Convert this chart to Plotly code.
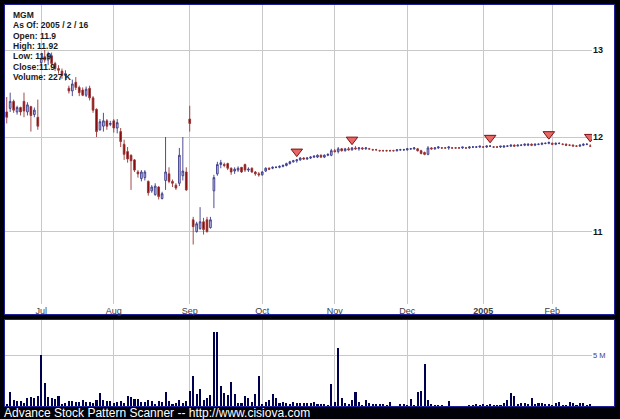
import plotly.graph_objects as go
import pandas as pd
import math

W, H = 620, 419

# ---- categories: trading days 2004-06-17 .. 2005-02-16 ----
holidays = ["2004-07-05", "2004-09-06", "2004-11-25", "2004-12-24", "2005-01-17"]
dates = [d.strftime("%Y-%m-%d") for d in pd.bdate_range("2004-06-17", "2005-02-16")
         if d.strftime("%Y-%m-%d") not in holidays]

# ---- price series ----
opens = [12.28, 12.32, 12.40, 12.28, 12.33, 12.40, 12.28, 12.34, 12.25, 12.22,
         12.85, 12.92, 12.88, 12.93, 12.84, 12.78, 12.75, 12.70, 12.55, 12.52,
         12.62, 12.56, 12.53, 12.47, 12.55, 12.44, 12.31, 12.08, 12.12, 12.18,
         12.14, 12.18, 12.10, 12.06, 11.92, 11.84, 11.80, 11.75, 11.62, 11.55,
         11.56, 11.52, 11.42, 11.38, 11.46, 11.34, 11.53, 11.60, 11.52, 11.48,
         11.50, 11.58, 11.62, 12.20, 11.12, 11.00, 11.03, 11.10, 11.12, 11.04,
         11.42, 11.60, 11.70, 11.70, 11.71, 11.66, 11.63, 11.64, 11.67, 11.70,
         11.64, 11.66, 11.62, 11.60, 11.59, 11.63, 11.66, 11.66, 11.67, 11.67,
         11.68, 11.69, 11.71, 11.73, 11.74, 11.75, 11.77, 11.76, 11.77, 11.78,
         11.78, 11.80, 11.78, 11.80, 11.80, 11.85, 11.84, 11.87, 11.85, 11.87,
         11.86, 11.88, 11.87, 11.88, 11.87, 11.87, 11.86, 11.86, 11.85, 11.85,
         11.85, 11.85, 11.85, 11.85, 11.86, 11.86, 11.86, 11.87, 11.87, 11.87,
         11.85, 11.83, 11.81, 11.88, 11.87, 11.88, 11.88, 11.88, 11.88, 11.88,
         11.88, 11.88, 11.88, 11.88, 11.88, 11.89, 11.89, 11.89, 11.89, 11.89,
         11.90, 11.89, 11.89, 11.89, 11.89, 11.90, 11.90, 11.91, 11.90, 11.91,
         11.91, 11.91, 11.92, 11.91, 11.92, 11.92, 11.93, 11.93, 11.93, 11.92,
         11.93, 11.92, 11.92, 11.91, 11.91, 11.90, 11.90, 11.91, 11.92, 11.90]
highs = [12.45, 12.50, 12.42, 12.35, 12.34, 12.50, 12.39, 12.35, 12.33, 12.42,
         12.95, 13.00, 12.98, 12.97, 12.86, 12.82, 12.78, 12.76, 12.58, 12.65,
         12.68, 12.58, 12.56, 12.57, 12.58, 12.46, 12.32, 12.20, 12.27, 12.20,
         12.18, 12.20, 12.20, 12.10, 11.97, 11.89, 11.81, 11.76, 11.64, 11.64,
         11.64, 11.53, 11.48, 11.50, 11.47, 11.41, 12.00, 11.67, 11.54, 11.50,
         11.88, 12.00, 11.67, 12.35, 11.15, 11.10, 11.25, 11.14, 11.15, 11.15,
         11.59, 11.73, 11.75, 11.72, 11.72, 11.67, 11.67, 11.68, 11.67, 11.71,
         11.67, 11.67, 11.63, 11.62, 11.63, 11.67, 11.67, 11.68, 11.68, 11.69,
         11.70, 11.72, 11.74, 11.75, 11.76, 11.78, 11.78, 11.78, 11.79, 11.80,
         11.81, 11.81, 11.81, 11.82, 11.87, 11.87, 11.89, 11.88, 11.88, 11.89,
         11.89, 11.90, 11.89, 11.89, 11.89, 11.88, 11.87, 11.87, 11.86, 11.86,
         11.86, 11.86, 11.86, 11.86, 11.87, 11.87, 11.88, 11.88, 11.89, 11.88,
         11.86, 11.84, 11.90, 11.89, 11.89, 11.90, 11.89, 11.89, 11.90, 11.89,
         11.89, 11.89, 11.89, 11.89, 11.90, 11.90, 11.90, 11.90, 11.90, 11.91,
         11.91, 11.90, 11.90, 11.90, 11.91, 11.91, 11.92, 11.92, 11.92, 11.92,
         11.93, 11.93, 11.93, 11.93, 11.93, 11.94, 11.94, 11.95, 11.94, 11.94,
         11.94, 11.93, 11.93, 11.92, 11.92, 11.91, 11.92, 11.93, 11.93, 11.92]
lows = [12.15, 12.28, 12.27, 12.25, 12.24, 12.22, 12.24, 12.06, 12.22, 12.08,
        12.78, 12.85, 12.82, 12.80, 12.75, 12.72, 12.66, 12.64, 12.49, 12.46,
        12.53, 12.46, 12.46, 12.45, 12.41, 12.27, 12.00, 12.07, 12.06, 12.08,
        12.12, 12.05, 12.04, 11.89, 11.75, 11.72, 11.43, 11.62, 11.56, 11.52,
        11.53, 11.37, 11.40, 11.37, 11.33, 11.33, 11.43, 11.50, 11.46, 11.43,
        11.47, 11.53, 11.42, 12.06, 10.87, 10.99, 11.02, 10.97, 10.99, 11.03,
        11.24, 11.58, 11.66, 11.67, 11.64, 11.59, 11.60, 11.62, 11.61, 11.62,
        11.62, 11.61, 11.58, 11.57, 11.58, 11.62, 11.64, 11.65, 11.66, 11.66,
        11.67, 11.68, 11.70, 11.72, 11.72, 11.74, 11.75, 11.75, 11.76, 11.77,
        11.77, 11.77, 11.77, 11.79, 11.79, 11.83, 11.82, 11.84, 11.84, 11.85,
        11.85, 11.86, 11.85, 11.86, 11.86, 11.86, 11.85, 11.85, 11.84, 11.84,
        11.84, 11.84, 11.84, 11.84, 11.85, 11.85, 11.85, 11.86, 11.86, 11.84,
        11.81, 11.80, 11.80, 11.86, 11.86, 11.87, 11.87, 11.87, 11.86, 11.87,
        11.87, 11.87, 11.87, 11.87, 11.87, 11.88, 11.88, 11.88, 11.88, 11.88,
        11.89, 11.88, 11.88, 11.88, 11.88, 11.89, 11.89, 11.89, 11.90, 11.90,
        11.90, 11.90, 11.90, 11.90, 11.91, 11.91, 11.92, 11.92, 11.91, 11.91,
        11.92, 11.91, 11.90, 11.90, 11.90, 11.89, 11.89, 11.90, 11.91, 11.90]
closes = [12.22, 12.40, 12.30, 12.33, 12.28, 12.29, 12.36, 12.24, 12.30, 12.12,
          12.90, 12.88, 12.95, 12.84, 12.78, 12.76, 12.70, 12.72, 12.52, 12.60,
          12.56, 12.50, 12.47, 12.54, 12.44, 12.30, 12.06, 12.17, 12.18, 12.12,
          12.15, 12.10, 12.16, 11.95, 11.81, 11.76, 11.74, 11.64, 11.60, 11.62,
          11.62, 11.40, 11.46, 11.47, 11.36, 11.39, 11.62, 11.52, 11.50, 11.45,
          11.80, 11.63, 11.43, 12.15, 11.05, 11.08, 11.10, 11.02, 11.00, 11.12,
          11.56, 11.70, 11.72, 11.69, 11.66, 11.62, 11.65, 11.66, 11.62, 11.64,
          11.65, 11.62, 11.60, 11.59, 11.62, 11.66, 11.65, 11.67, 11.67, 11.68,
          11.69, 11.71, 11.73, 11.74, 11.75, 11.77, 11.76, 11.77, 11.78, 11.79,
          11.80, 11.78, 11.80, 11.81, 11.85, 11.84, 11.87, 11.85, 11.87, 11.86,
          11.88, 11.87, 11.88, 11.87, 11.88, 11.87, 11.86, 11.86, 11.85, 11.85,
          11.85, 11.85, 11.85, 11.86, 11.86, 11.86, 11.87, 11.87, 11.88, 11.85,
          11.82, 11.81, 11.88, 11.87, 11.88, 11.89, 11.88, 11.88, 11.89, 11.88,
          11.88, 11.88, 11.89, 11.88, 11.89, 11.89, 11.89, 11.90, 11.89, 11.90,
          11.90, 11.89, 11.89, 11.90, 11.90, 11.90, 11.91, 11.90, 11.91, 11.91,
          11.92, 11.92, 11.91, 11.92, 11.92, 11.93, 11.93, 11.94, 11.92, 11.93,
          11.93, 11.92, 11.91, 11.91, 11.90, 11.90, 11.91, 11.92, 11.92, 11.90]

# volume in millions of shares
volume_m = [0.17, 1.4, 0.56, 0.5, 0.5, 0.26, 0.83, 0.86, 0.83, 1.0,
            5.07, 2.3, 0.9, 0.83, 0.66, 0.96, 0.17, 0.33, 0.46, 0.46,
            0.43, 0.43, 0.6, 0.43, 0.36, 0.3, 0.6, 1.3, 0.63, 0.5,
            0.5, 0.33, 0.43, 0.5, 0.33, 1.0, 0.93, 0.7, 0.7, 0.36,
            0.36, 0.6, 0.5, 0.23, 0.46, 0.36, 1.36, 0.5, 0.23, 0.33,
            0.6, 0.26, 0.53, 1.5, 3.0, 1.2, 1.66, 0.6, 0.76, 1.1,
            7.4, 7.4, 2.0, 1.3, 1.1, 2.35, 1.2, 0.26, 0.3, 1.0,
            0.83, 0.43, 1.16, 3.0, 0.2, 0.36, 0.63, 1.16, 0.76, 0.26,
            0.43, 0.26, 0.17, 0.36, 0.26, 0.26, 0.33, 0.3, 0.26, 0.43,
            0.2, 0.17, 0.2, 0.1, 2.2, 0.43, 5.8, 0.76, 0.33, 0.23,
            0.6, 1.36, 0.43, 0.1, 0.6, 0.26, 0.17, 0.17, 0.17, 0.17,
            0.1, 0.36, 0.05, 0.05, 0.17, 0.17, 0.1, 0.66, 0.1, 1.4,
            1.5, 4.2, 0.56, 0.17, 0.1, 0.1, 0.1, 0.05, 0.5, 0.05,
            0.05, 0.05, 0.05, 0.05, 0.1, 0.1, 0.17, 0.1, 0.17, 0.1,
            0.17, 0.1, 0.1, 0.1, 0.26, 0.56, 1.26, 1.0, 0.17, 0.26,
            0.33, 0.17, 0.83, 0.17, 0.26, 0.26, 0.17, 0.17, 0.1, 0.26,
            0.43, 0.1, 0.1, 0.36, 0.33, 0.1, 0.26, 0.33, 0.1, 0.227]

signal_idx = [84, 100, 140, 157, 169]

month_ticks = ["2004-07-01", "2004-08-02", "2004-09-01", "2004-10-01",
               "2004-11-01", "2004-12-01", "2005-01-03", "2005-02-01"]
month_labels = ["Jul", "Aug", "Sep", "Oct", "Nov", "Dec", "<b>2005</b>", "Feb"]
price_ticks = [11, 12, 13]
vol_ticks = [5]
vol_tick_labels = ["5 M"]

info_lines = ["MGM", "As Of: 2005 / 2 / 16", "Open: 11.9", "High: 11.92",
              "Low: 11.9", "Close:11.9", "Volume: 227 K"]
footer = "Advance Stock Pattern Scanner -- http://www.cisiova.com"

# ---- helpers for pixel layout ----
def px(x):
    return x / W

def py(y):
    return 1 - y / H

# log-scale price axis: 13 at y=50px, 2503 px per decade
top_log = math.log10(13) + 45 / 2503
bot_log = math.log10(13) - 254 / 2503

FONT = "Liberation Sans, Arial, sans-serif"
GRID = "#c8c8c8"

fig = go.Figure()

fig.add_trace(go.Candlestick(
    x=dates, open=opens, high=highs, low=lows, close=closes,
    increasing=dict(line=dict(color="#3a3a8a", width=0.9), fillcolor="#c4c4ec"),
    decreasing=dict(line=dict(color="#9a3434", width=0.9), fillcolor="#800000"),
    whiskerwidth=0, xaxis="x", yaxis="y", showlegend=False, hoverinfo="skip"))

fig.add_trace(go.Scatter(
    x=[dates[i] for i in signal_idx], y=[highs[i] * 1.0068 for i in signal_idx],
    mode="markers", xaxis="x", yaxis="y", showlegend=False, hoverinfo="skip",
    marker=dict(symbol="triangle-down", size=10, color="#e86868",
                line=dict(color="#7a1010", width=1))))

fig.add_trace(go.Bar(
    x=dates, y=volume_m, width=0.6, xaxis="x2", yaxis="y2",
    marker=dict(color="#000050", line=dict(width=0)),
    showlegend=False, hoverinfo="skip"))

shapes = [
    dict(type="rect", xref="paper", yref="paper", x0=px(4.5), x1=px(614.5),
         y0=py(314.5), y1=py(4.5), fillcolor="white",
         line=dict(color="#20209a", width=1), layer="below"),
    dict(type="rect", xref="paper", yref="paper", x0=px(4.5), x1=px(614.5),
         y0=py(406.5), y1=py(319.5), fillcolor="white",
         line=dict(color="#20209a", width=1), layer="below"),
]

annotations = []
for k, t in enumerate(info_lines):
    annotations.append(dict(
        text="<b>" + t + "</b>", xref="paper", yref="paper",
        x=px(11), y=py(14.7 + k * 10.4), xanchor="left", yanchor="middle",
        showarrow=False, font=dict(family=FONT, size=8.5, color="#1a1a1a")))
annotations.append(dict(
    text=footer, xref="paper", yref="paper", x=px(2), y=py(413),
    xanchor="left", yanchor="middle", showarrow=False,
    font=dict(family=FONT, size=12, color="white")))

fig.update_layout(
    width=W, height=H, margin=dict(l=0, r=0, t=0, b=0),
    paper_bgcolor="#000008", plot_bgcolor="white",
    shapes=shapes, annotations=annotations, bargap=0,
    font=dict(family=FONT),
    xaxis=dict(type="category", categoryorder="array", categoryarray=dates,
               domain=[px(5), px(592)], anchor="y", range=[-0.5, len(dates) - 0.5],
               tickmode="array", tickvals=month_ticks, ticktext=month_labels,
               showgrid=True, gridcolor=GRID, gridwidth=1, ticks="",
               tickfont=dict(size=9, color="#404040", family=FONT),
               rangeslider=dict(visible=False), showline=False, zeroline=False),
    yaxis=dict(type="log", domain=[py(304), py(5)], range=[bot_log, top_log],
               anchor="x", side="right", tickmode="array", tickvals=price_ticks,
               ticktext=["<b>%d</b>" % v for v in price_ticks],
               showgrid=True, gridcolor=GRID, gridwidth=1, ticks="",
               tickfont=dict(size=9, color="#111111", family=FONT),
               showline=False, zeroline=False),
    xaxis2=dict(type="category", matches="x", domain=[px(5), px(592)], anchor="y2",
                tickmode="array", tickvals=month_ticks, showticklabels=False,
                showgrid=True, gridcolor=GRID, gridwidth=1, ticks="",
                showline=False, zeroline=False),
    yaxis2=dict(domain=[py(406), py(320)], range=[0, 8.55], anchor="x2", side="right",
                tickmode="array", tickvals=vol_ticks, ticktext=vol_tick_labels,
                showgrid=True, gridcolor=GRID, gridwidth=1, ticks="",
                tickfont=dict(size=7.5, color="#3c3c8c", family=FONT),
                showline=False, zeroline=False),
)

fig.write_html("out.html",
               config={"displayModeBar": False, "staticPlot": True},
               post_script="document.body.style.margin='0';"
                           "document.body.style.overflow='hidden';"
                           "document.body.style.background='#000008';")
